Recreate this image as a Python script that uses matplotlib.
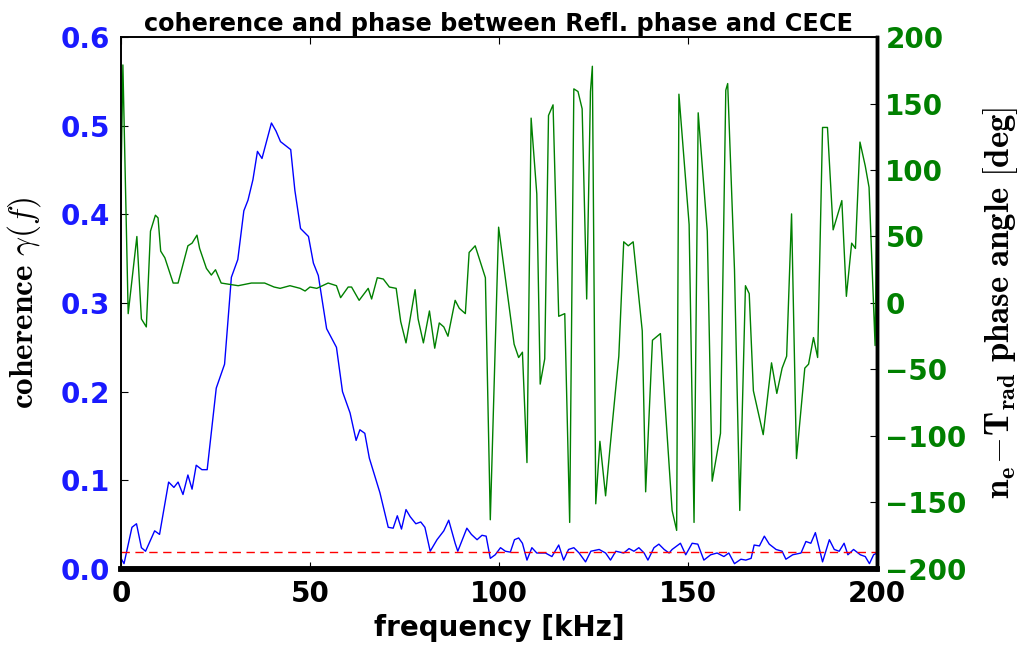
import matplotlib
matplotlib.use('Agg')
import matplotlib.pyplot as plt
import numpy as np

# coherence spectrum (left axis)
freq_coh = [0, 0.8, 2.9, 4.1, 5.4, 6.5, 8.9, 10.2, 12.6, 14.0, 15.1, 16.4, 17.7, 18.8,
            19.9, 21.4, 22.8, 25.2, 27.4, 29.2, 30.9, 32.5, 33.6, 34.9, 36.1, 37.3, 38.5,
            39.8, 41.0, 42.2, 44.9, 46.0, 47.5, 49.6, 50.9, 52.2, 54.4, 57.0, 58.6, 60.6,
            62.2, 63.2, 64.5, 65.7, 68.5, 70.7, 72.0, 73.1, 74.2, 75.4, 76.5, 78.0, 79.3,
            80.4, 81.8, 83.6, 85.4, 86.7, 88.4, 89.1, 91.5, 92.7, 94.2, 95.5, 96.6, 97.7,
            99.0, 100.4, 101.7, 103.0, 104.1, 105.2, 106.2, 107.4, 108.7, 110.0, 112.3,
            114.0, 115.8, 117.1, 118.4, 119.8, 121.2, 122.9, 124.3, 126.5, 128.2, 129.5,
            130.9, 133.0, 134.4, 135.7, 137.0, 138.4, 139.4, 141.0, 142.3, 143.7, 145.0,
            145.8, 148.0, 149.4, 151.1, 152.6, 154.2, 156.0, 157.7, 159.5, 160.8, 162.3,
            164.0, 165.3, 166.7, 167.5, 168.9, 170.2, 171.5, 173.3, 174.9, 175.9, 177.7,
            179.9, 181.2, 182.5, 183.7, 185.6, 187.4, 188.7, 190.0, 191.3, 192.3, 193.8,
            195.6, 196.9, 198.0, 199.1, 200.0]
coherence = [0.012, 0.006, 0.047, 0.051, 0.024, 0.020, 0.043, 0.039, 0.098, 0.092, 0.098,
             0.084, 0.106, 0.090, 0.117, 0.112, 0.112, 0.204, 0.231, 0.329, 0.349, 0.404,
             0.416, 0.439, 0.471, 0.463, 0.482, 0.503, 0.494, 0.482, 0.473, 0.427, 0.384,
             0.375, 0.345, 0.331, 0.271, 0.250, 0.200, 0.176, 0.145, 0.157, 0.153, 0.125,
             0.086, 0.047, 0.046, 0.060, 0.045, 0.067, 0.059, 0.051, 0.053, 0.047, 0.020,
             0.033, 0.043, 0.055, 0.029, 0.020, 0.046, 0.039, 0.033, 0.038, 0.037, 0.012,
             0.016, 0.024, 0.020, 0.019, 0.033, 0.035, 0.029, 0.010, 0.024, 0.018, 0.018,
             0.014, 0.027, 0.010, 0.022, 0.024, 0.018, 0.008, 0.020, 0.022, 0.018, 0.010,
             0.020, 0.018, 0.023, 0.020, 0.024, 0.018, 0.010, 0.024, 0.028, 0.022, 0.018,
             0.022, 0.029, 0.016, 0.029, 0.028, 0.010, 0.016, 0.018, 0.014, 0.018, 0.006,
             0.011, 0.010, 0.012, 0.027, 0.026, 0.037, 0.028, 0.022, 0.020, 0.011, 0.016,
             0.018, 0.031, 0.029, 0.041, 0.008, 0.033, 0.022, 0.020, 0.029, 0.016, 0.022,
             0.016, 0.014, 0.006, 0.016, 0.018]
sig_level = 0.0195

# cross phase (right axis)
freq_phase = [0, 0.5, 1.9, 4.2, 5.4, 6.7, 7.8, 9.1, 9.8, 10.5, 11.6, 13.8, 15.1, 17.7,
              18.8, 20.1, 20.8, 22.6, 23.9, 25.0, 26.5, 31.0, 34.5, 38.0, 40.5, 42.1, 44.7,
              47.4, 48.7, 50.0, 51.8, 54.8, 57.0, 58.1, 60.1, 61.0, 63.0, 65.4, 66.3, 67.8,
              69.4, 71.0, 72.8, 74.0, 75.4, 77.8, 78.6, 80.0, 81.6, 83.0, 84.2, 85.4, 86.5,
              88.4, 89.5, 91.1, 92.1, 93.7, 96.4, 97.7, 99.9, 104.0, 105.2, 106.2, 107.4,
              108.5, 110.0, 110.9, 112.1, 113.1, 114.3, 115.8, 117.4, 118.7, 119.8, 120.9,
              122.0, 123.2, 124.2, 124.7, 125.6, 126.7, 128.2, 129.4, 131.7, 133.0, 134.2,
              135.5, 137.9, 138.8, 140.6, 142.7, 145.8, 147.0, 147.6, 150.3, 151.6, 152.7,
              155.1, 156.4, 158.6, 160.0, 160.5, 162.3, 163.7, 165.2, 166.2, 167.3, 169.9,
              172.1, 173.5, 174.9, 176.1, 177.4, 178.7, 180.9, 181.9, 183.2, 184.3, 185.6,
              186.9, 188.4, 190.7, 191.9, 193.3, 194.3, 195.5, 196.9, 197.9, 199.5, 200.0]
phase = [90, 179, -8, 50, -12, -18, 54, 66, 64, 39, 34, 15, 15, 43, 45, 51, 41, 26, 21, 25,
         15, 13, 15, 15, 12, 11, 13, 11, 9, 12, 11, 15, 13, 4, 12, 12, 2, 11, 3, 19, 18, 12,
         11, -14, -30, 10, -12, -30, -6, -34, -15, -18, -25, 2, -4, -8, 38, 43, 19, -163,
         57, -31, -41, -37, -120, 139, 82, -61, -42, 141, 149, -10, -8, -165, 161, 159, 146,
         3, 159, 178, -151, -104, -145, -108, -40, 46, 43, 46, -21, -142, -28, -23, -156,
         -171, 157, 59, -165, 143, 54, -134, -98, 160, 165, 25, -156, 13, 7, -66, -99, -45,
         -68, -49, -40, 67, -117, -49, -46, -26, -41, 132, 132, 55, 77, 5, 45, 41, 121, 103,
         87, -32, 85]

plt.rcParams['mathtext.fontset'] = 'cm'

fig = plt.figure(figsize=(10.28, 6.47), dpi=100)
ax = fig.add_axes([0.1177, 0.1206, 0.7354, 0.8222])
ax2 = ax.twinx()

ax.plot(freq_coh, coherence, color='b', lw=1)
ax.axhline(sig_level, color='r', ls='--', lw=1, dashes=(6, 4))
ax2.plot(freq_phase, phase, color='g', lw=1)

ax.set_xlim(0, 200)
ax.set_ylim(0, 0.6)
ax2.set_ylim(-200, 200)
ax.set_xticks([0, 50, 100, 150, 200])
ax.set_yticks(np.arange(0, 0.61, 0.1))
ax2.set_yticks(np.arange(-200, 201, 50))
ax.set_yticklabels(['%.1f' % v for v in np.arange(0, 0.61, 0.1)])

ax.tick_params(axis='x', direction='in', top=True, length=5, pad=8, labelsize=20)
ax.tick_params(axis='y', direction='in', right=False, length=5, pad=8, labelsize=20,
               labelcolor='#1a1aff')
ax2.tick_params(axis='y', direction='in', length=5, pad=6, labelsize=20, labelcolor='green')
for lab in ax.get_xticklabels() + ax.get_yticklabels() + ax2.get_yticklabels():
    lab.set_fontweight('bold')

for a in (ax, ax2):
    a.spines['bottom'].set_linewidth(4)
    a.spines['right'].set_linewidth(2.5)
    a.spines['left'].set_linewidth(1.2)
    a.spines['top'].set_linewidth(1.2)

ax.set_title('coherence and phase between Refl. phase and CECE', fontsize=17.3,
             fontweight='bold', pad=4)
ax.set_xlabel('frequency [kHz]', fontsize=20, fontweight='bold')
ax.set_ylabel(r'$\mathbf{coherence}\ \gamma(f)$', fontsize=24)
ax2.set_ylabel(r'$\mathbf{n_e\!-\!T_{rad}\ phase\ angle\ [deg]}$', fontsize=25)
ax.yaxis.set_label_coords(-0.103, 0.5)
ax2.yaxis.set_label_coords(1.137, 0.5)

fig.savefig('out.png', dpi=100, facecolor='white')
